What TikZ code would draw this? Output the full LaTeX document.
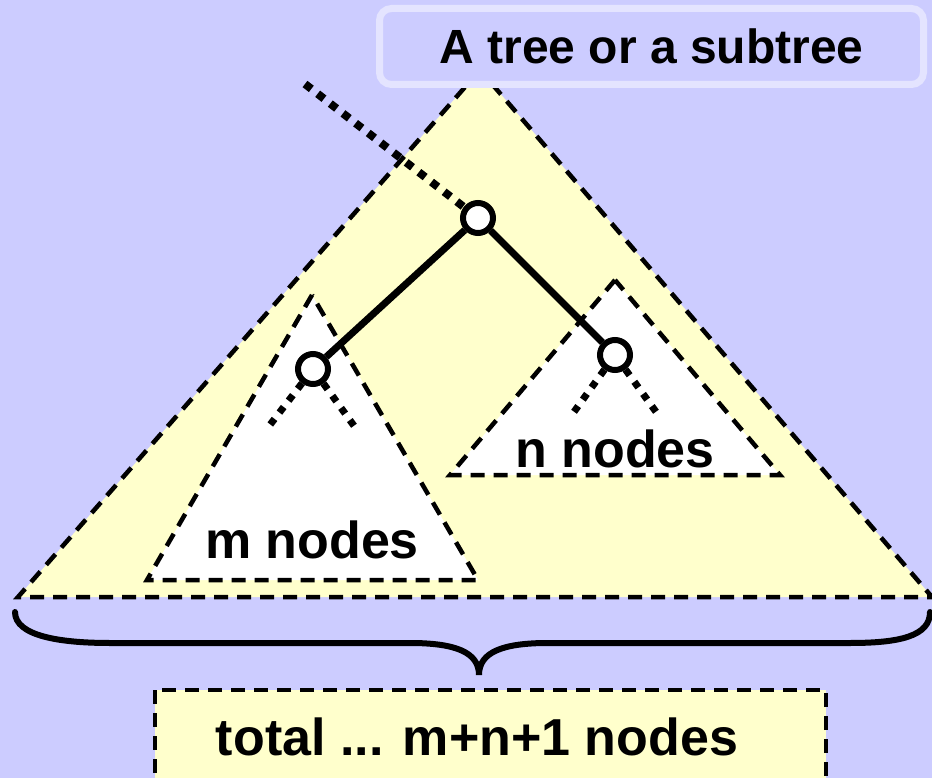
\documentclass[tikz,border=0pt]{standalone}
\usepackage{fontspec}
\setmainfont{Liberation Sans}
\definecolor{bglav}{HTML}{CCCCFF}
\definecolor{titleedge}{HTML}{E4E4FF}
\definecolor{paleyel}{HTML}{FFFFCC}
\begin{document}
\begin{tikzpicture}[x=1pt,y=-1pt,
  dashedge/.style={line width=4.5pt,dash pattern=on 14pt off 9pt},
  treenode/.style={circle,draw,line width=6pt,fill=white,minimum size=30pt,inner sep=0pt},
  edge/.style={line width=7pt},
  bigdots/.style={line width=8pt,dash pattern=on 8pt off 8pt},
  stubdots/.style={line width=7pt,dash pattern=on 7pt off 8pt},
  lbl/.style={font=\fontsize{52}{52}\selectfont\bfseries,anchor=base,inner sep=0pt}]
\useasboundingbox (0,0) rectangle (932,778);
\clip (0,0) rectangle (932,778);
\fill[bglav] (0,0) rectangle (932,778);
% big triangle
\filldraw[fill=paleyel,dashedge] (480,70) -- (18,597) -- (932,597) -- cycle;
% subtrees
\filldraw[fill=white,dashedge] (312,295) -- (147,580) -- (478,580) -- cycle;
\filldraw[fill=white,dashedge] (615,280) -- (450,475) -- (780,475) -- cycle;
% title box
\node[draw=titleedge,fill=bglav,line width=7pt,rounded corners=12pt,
      minimum width=544pt,minimum height=76pt,inner sep=0pt] (title) at (651.5,46.5) {};
\node[font=\fontsize{48}{48}\selectfont\bfseries,anchor=base,inner sep=0pt] (titletext) at (651.5,64) {A tree or a subtree};
% tree nodes
\node[treenode] (root) at (478,218) {};
\node[treenode] (mnode) at (313,369) {};
\node[treenode] (nnode) at (615,355) {};
\coordinate (up) at (305,84);
\coordinate (ml) at (266,430);
\coordinate (mr) at (357,430);
\coordinate (nl) at (571,416);
\coordinate (nr) at (659,416);
\draw[bigdots] (up) -- (root);
\draw[edge] (root) -- (mnode);
\draw[edge] (root) -- (nnode);
\draw[stubdots] (mnode) -- (ml);
\draw[stubdots] (mnode) -- (mr);
\draw[stubdots] (nnode) -- (nl);
\draw[stubdots] (nnode) -- (nr);
% labels
\node[lbl] (mlabel) at (312,558) {m nodes};
\node[lbl] (nlabel) at (615,467) {n nodes};
% brace
\draw[line width=6pt,line cap=round] (15,612) .. controls (15,636) and (60,643) .. (110,643) -- (410,643)
  .. controls (455,643) and (479,652) .. (479,675)
  .. controls (479,652) and (503,643) .. (548,643) -- (850,643)
  .. controls (900,643) and (930,636) .. (930,612);
% total box
\filldraw[fill=paleyel,dashedge] (155,690) rectangle (826,800);
\node[lbl] (total) at (477,755) {total ... m+n+1 nodes};
\end{tikzpicture}
\end{document}
